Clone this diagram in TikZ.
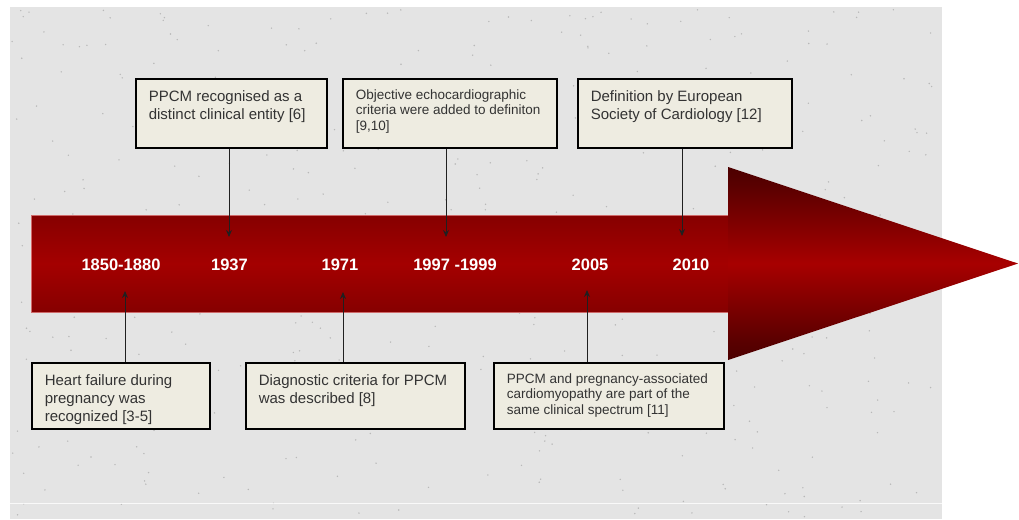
\documentclass[tikz,border=0pt]{standalone}
\usepackage{fontspec}
\setmainfont{Liberation Sans}
\usetikzlibrary{arrows.meta,calc}
\definecolor{bgc}{HTML}{E4E4E4}
\definecolor{speckc}{HTML}{B8B8B8}
\definecolor{boxfill}{HTML}{EEECE1}
\definecolor{txtc}{HTML}{333333}
\definecolor{s1}{HTML}{680000}
\definecolor{s2}{HTML}{A40000}
\definecolor{h1}{HTML}{050000}
\definecolor{h2}{HTML}{5A0000}
\definecolor{h3}{HTML}{A80000}
\definecolor{connc}{HTML}{202020}
\pgfdeclareverticalshading{shaftshade}{100bp}{color(0bp)=(s1); color(50bp)=(s2); color(100bp)=(s1)}
\pgfdeclareverticalshading{headshade}{100bp}{color(0bp)=(h1); color(30bp)=(h2); color(50bp)=(h3); color(70bp)=(h2); color(100bp)=(h1)}
\newcommand{\bt}[3]{\parbox[b][#2][t]{#1}{\rule{0pt}{22.5pt}#3}}
\newcommand{\bts}[3]{\parbox[b][#2][t]{#1}{\rule{0pt}{20.5pt}#3}}
\begin{document}
\begin{tikzpicture}[x=1pt,y=-1pt,
  tbox/.style={draw=black, line width=1.6pt, fill=boxfill, anchor=north west,
    inner xsep=13pt, inner ysep=0pt, text=txtc, align=left},
  big/.style={font=\fontsize{15}{18}\selectfont},
  small/.style={font=\fontsize{13.5}{15.5}\selectfont},
  year/.style={text=white, font=\fontsize{16.5}{18}\selectfont\bfseries},
  conn/.style={draw=connc, line width=0.9pt, -{Stealth[length=7pt,width=6pt]}}]
\useasboundingbox (0,0) rectangle (1019,519);
% background
\fill[bgc] (10,7) rectangle (942,519);
\pgfmathsetseed{11}
\foreach \i in {1,...,500}{
  \pgfmathsetmacro\px{12+rnd*928}
  \pgfmathsetmacro\py{9+rnd*508}
  \fill[speckc] (\px,\py) circle (0.8);
}
\draw[white, line width=0.8pt, opacity=0.8] (10,503) -- (942,503);
% arrow
\shade[shading=shaftshade] (31,215) rectangle (729,312);
\draw[white!70!red, line width=0.4pt, opacity=0.6] (31,215) rectangle (729,312);
\shade[shading=headshade] (728,167) -- (1018,263.5) -- (728,360) -- cycle;
% years
\node[year] (y1) at (121,265) {1850-1880};
\node[year] (y2) at (229.5,265) {1937};
\node[year] (y3) at (340,265) {1971};
\node[year] (y4) at (455,265) {1997 -1999};
\node[year] (y5) at (590,265) {2005};
\node[year] (y6) at (691,265) {2010};
% boxes top
\node[tbox, big, minimum width=191pt, minimum height=69pt] (b1) at (135,78)
  {\bt{165pt}{69pt}{PPCM recognised as a\\distinct clinical entity [6]}};
\node[tbox, small, minimum width=214pt, minimum height=69pt] (b2) at (342,78)
  {\bts{188pt}{69pt}{Objective echocardiographic\\criteria were added to definiton\\{[9,10]}}};
\node[tbox, big, minimum width=214pt, minimum height=69pt] (b3) at (577,78)
  {\bt{188pt}{69pt}{Definition by European\\Society of Cardiology [12]}};
% boxes bottom
\node[tbox, big, minimum width=178pt, minimum height=66pt] (b4) at (31,362)
  {\bt{152pt}{66pt}{Heart failure during\\pregnancy was\\recognized [3-5]}};
\node[tbox, big, minimum width=219pt, minimum height=66pt] (b5) at (245,362)
  {\bt{193pt}{66pt}{Diagnostic criteria for PPCM\\was described [8]}};
\node[tbox, small, minimum width=230pt, minimum height=66pt] (b6) at (493,362)
  {\bts{204pt}{66pt}{PPCM and pregnancy-associated\\cardiomyopathy are part of the\\same clinical spectrum [11]}};
% connector ends
\coordinate (t1) at (229,237);
\coordinate (t2) at (446,237);
\coordinate (t3) at (682,236);
\coordinate (t4) at (125,291);
\coordinate (t5) at (343,292);
\coordinate (t6) at (587,290);
\draw[conn] (t1 |- b1.south) -- (t1);
\draw[conn] (t2 |- b2.south) -- (t2);
\draw[conn] (t3 |- b3.south) -- (t3);
\draw[conn] (t4 |- b4.north) -- (t4);
\draw[conn] (t5 |- b5.north) -- (t5);
\draw[conn] (t6 |- b6.north) -- (t6);
\end{tikzpicture}
\end{document}
